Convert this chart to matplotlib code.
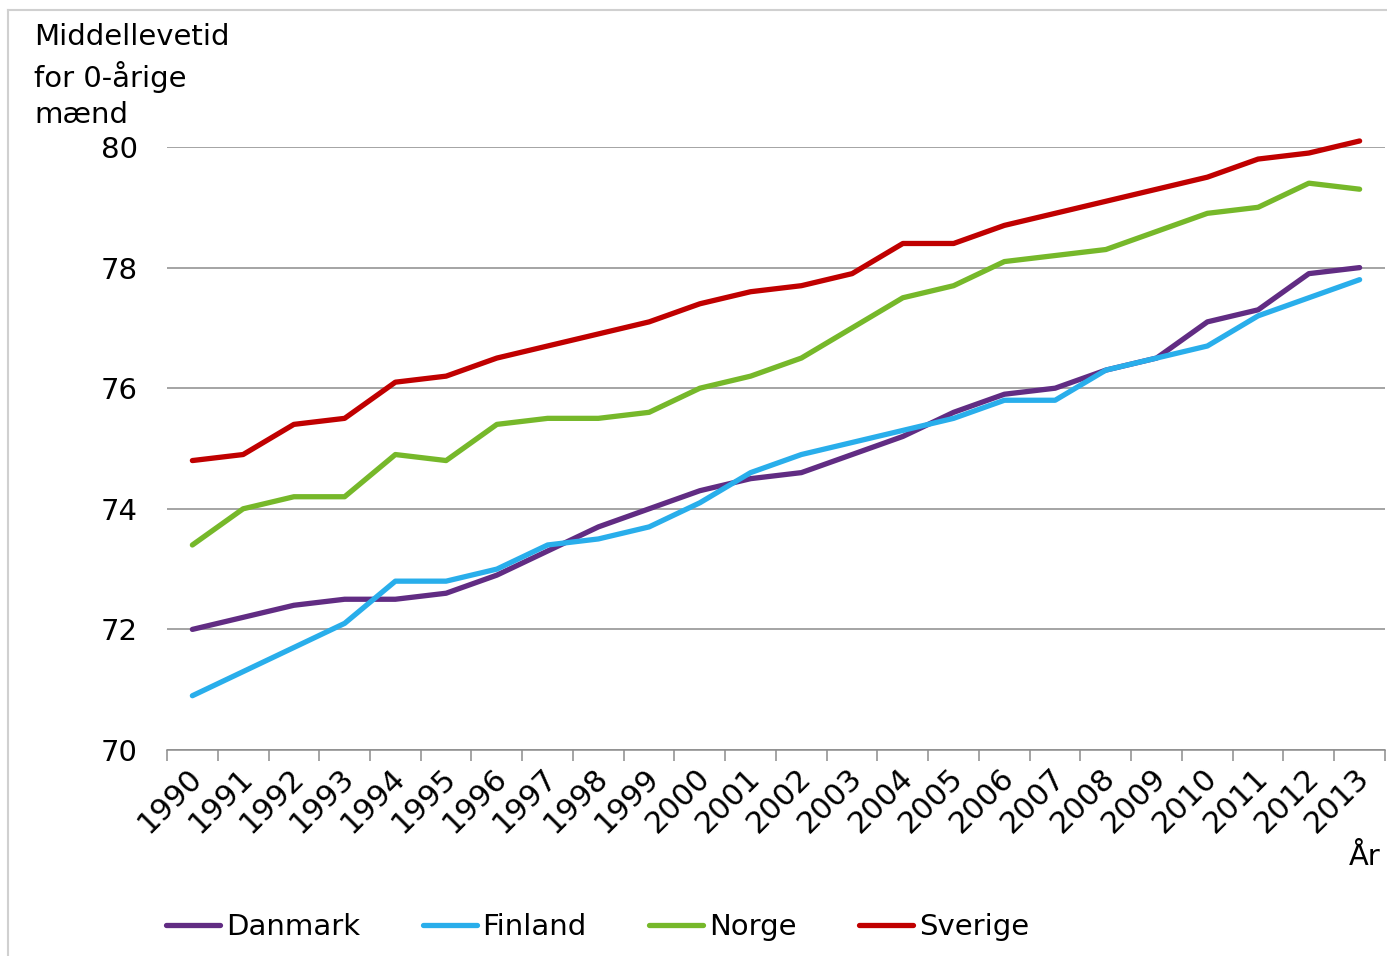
import matplotlib
matplotlib.use("Agg")
import matplotlib.pyplot as plt
import matplotlib.transforms as mtransforms
from matplotlib.lines import Line2D
import numpy as np

years = [str(y) for y in range(1990, 2014)]

danmark = [72.0, 72.2, 72.4, 72.5, 72.5, 72.6, 72.9, 73.3, 73.7, 74.0, 74.3, 74.5,
           74.6, 74.9, 75.2, 75.6, 75.9, 76.0, 76.3, 76.5, 77.1, 77.3, 77.9, 78.0]
finland = [70.9, 71.3, 71.7, 72.1, 72.8, 72.8, 73.0, 73.4, 73.5, 73.7, 74.1, 74.6,
           74.9, 75.1, 75.3, 75.5, 75.8, 75.8, 76.3, 76.5, 76.7, 77.2, 77.5, 77.8]
norge = [73.4, 74.0, 74.2, 74.2, 74.9, 74.8, 75.4, 75.5, 75.5, 75.6, 76.0, 76.2,
         76.5, 77.0, 77.5, 77.7, 78.1, 78.2, 78.3, 78.6, 78.9, 79.0, 79.4, 79.3]
sverige = [74.8, 74.9, 75.4, 75.5, 76.1, 76.2, 76.5, 76.7, 76.9, 77.1, 77.4, 77.6,
           77.7, 77.9, 78.4, 78.4, 78.7, 78.9, 79.1, 79.3, 79.5, 79.8, 79.9, 80.1]

series = [
    ("Danmark", danmark, "#612C83"),
    ("Finland", finland, "#29AEEB"),
    ("Norge", norge, "#76B82A"),
    ("Sverige", sverige, "#C00000"),
]

FS = 21
W, H = 1387, 956
fig = plt.figure(figsize=(W / 100, H / 100), dpi=100)
ax = fig.add_axes([167 / W, 1 - 750 / H, (1385 - 167) / W, (750 - 147) / H])

x = np.arange(len(years))
for name, vals, col in series:
    ax.plot(x, vals, color=col, linewidth=3.8, label=name,
            solid_capstyle="round", solid_joinstyle="round", clip_on=False)

ax.set_xlim(-0.5, len(years) - 0.5)
ax.set_ylim(70, 80)
ax.set_yticks([70, 72, 74, 76, 78, 80])
ax.yaxis.grid(True, color="#8C8C8C", linewidth=1.1)
ax.set_axisbelow(True)

for s in ["top", "right", "left"]:
    ax.spines[s].set_visible(False)
ax.spines["bottom"].set_color("#8C8C8C")
ax.spines["bottom"].set_linewidth(1.1)

ax.tick_params(axis="y", length=0, labelsize=FS, pad=21)
ax.set_xticks(x)
ax.set_xticklabels(years, rotation=45, ha="right", va="top",
                   rotation_mode="anchor", fontsize=FS + 1)
ax.tick_params(axis="x", length=0, pad=9)
ax.set_xticks(np.arange(-0.5, len(years) + 0.5, 1), minor=True)
ax.tick_params(axis="x", which="minor", length=8, color="#8C8C8C", width=1.1)
shift = mtransforms.ScaledTranslation(-5 / 100, 0, fig.dpi_scale_trans)
for lbl in ax.get_xticklabels():
    lbl.set_transform(lbl.get_transform() + shift)

fig.text(34 / W, 1 - 23 / H, "Middellevetid\nfor 0-årige\nmænd", fontsize=FS,
         ha="left", va="top", linespacing=1.38)
fig.text(1381 / W, 1 - 857 / H, "År", fontsize=FS, ha="right", va="center")

fig.legend(loc="center left", bbox_to_anchor=(166 / W, 1 - 927 / H), ncol=4,
           frameon=False, fontsize=FS, handlelength=1.85, handletextpad=0.2,
           columnspacing=2.15, borderpad=0, borderaxespad=0)

fig.add_artist(Line2D([8 / W, 8 / W], [0, 1 - 10 / H], color="#D0D0D0",
                      linewidth=1.5, transform=fig.transFigure))
fig.add_artist(Line2D([8 / W, 1], [1 - 10 / H, 1 - 10 / H], color="#D0D0D0",
                      linewidth=1.5, transform=fig.transFigure))

fig.savefig("out.png", dpi=100)
